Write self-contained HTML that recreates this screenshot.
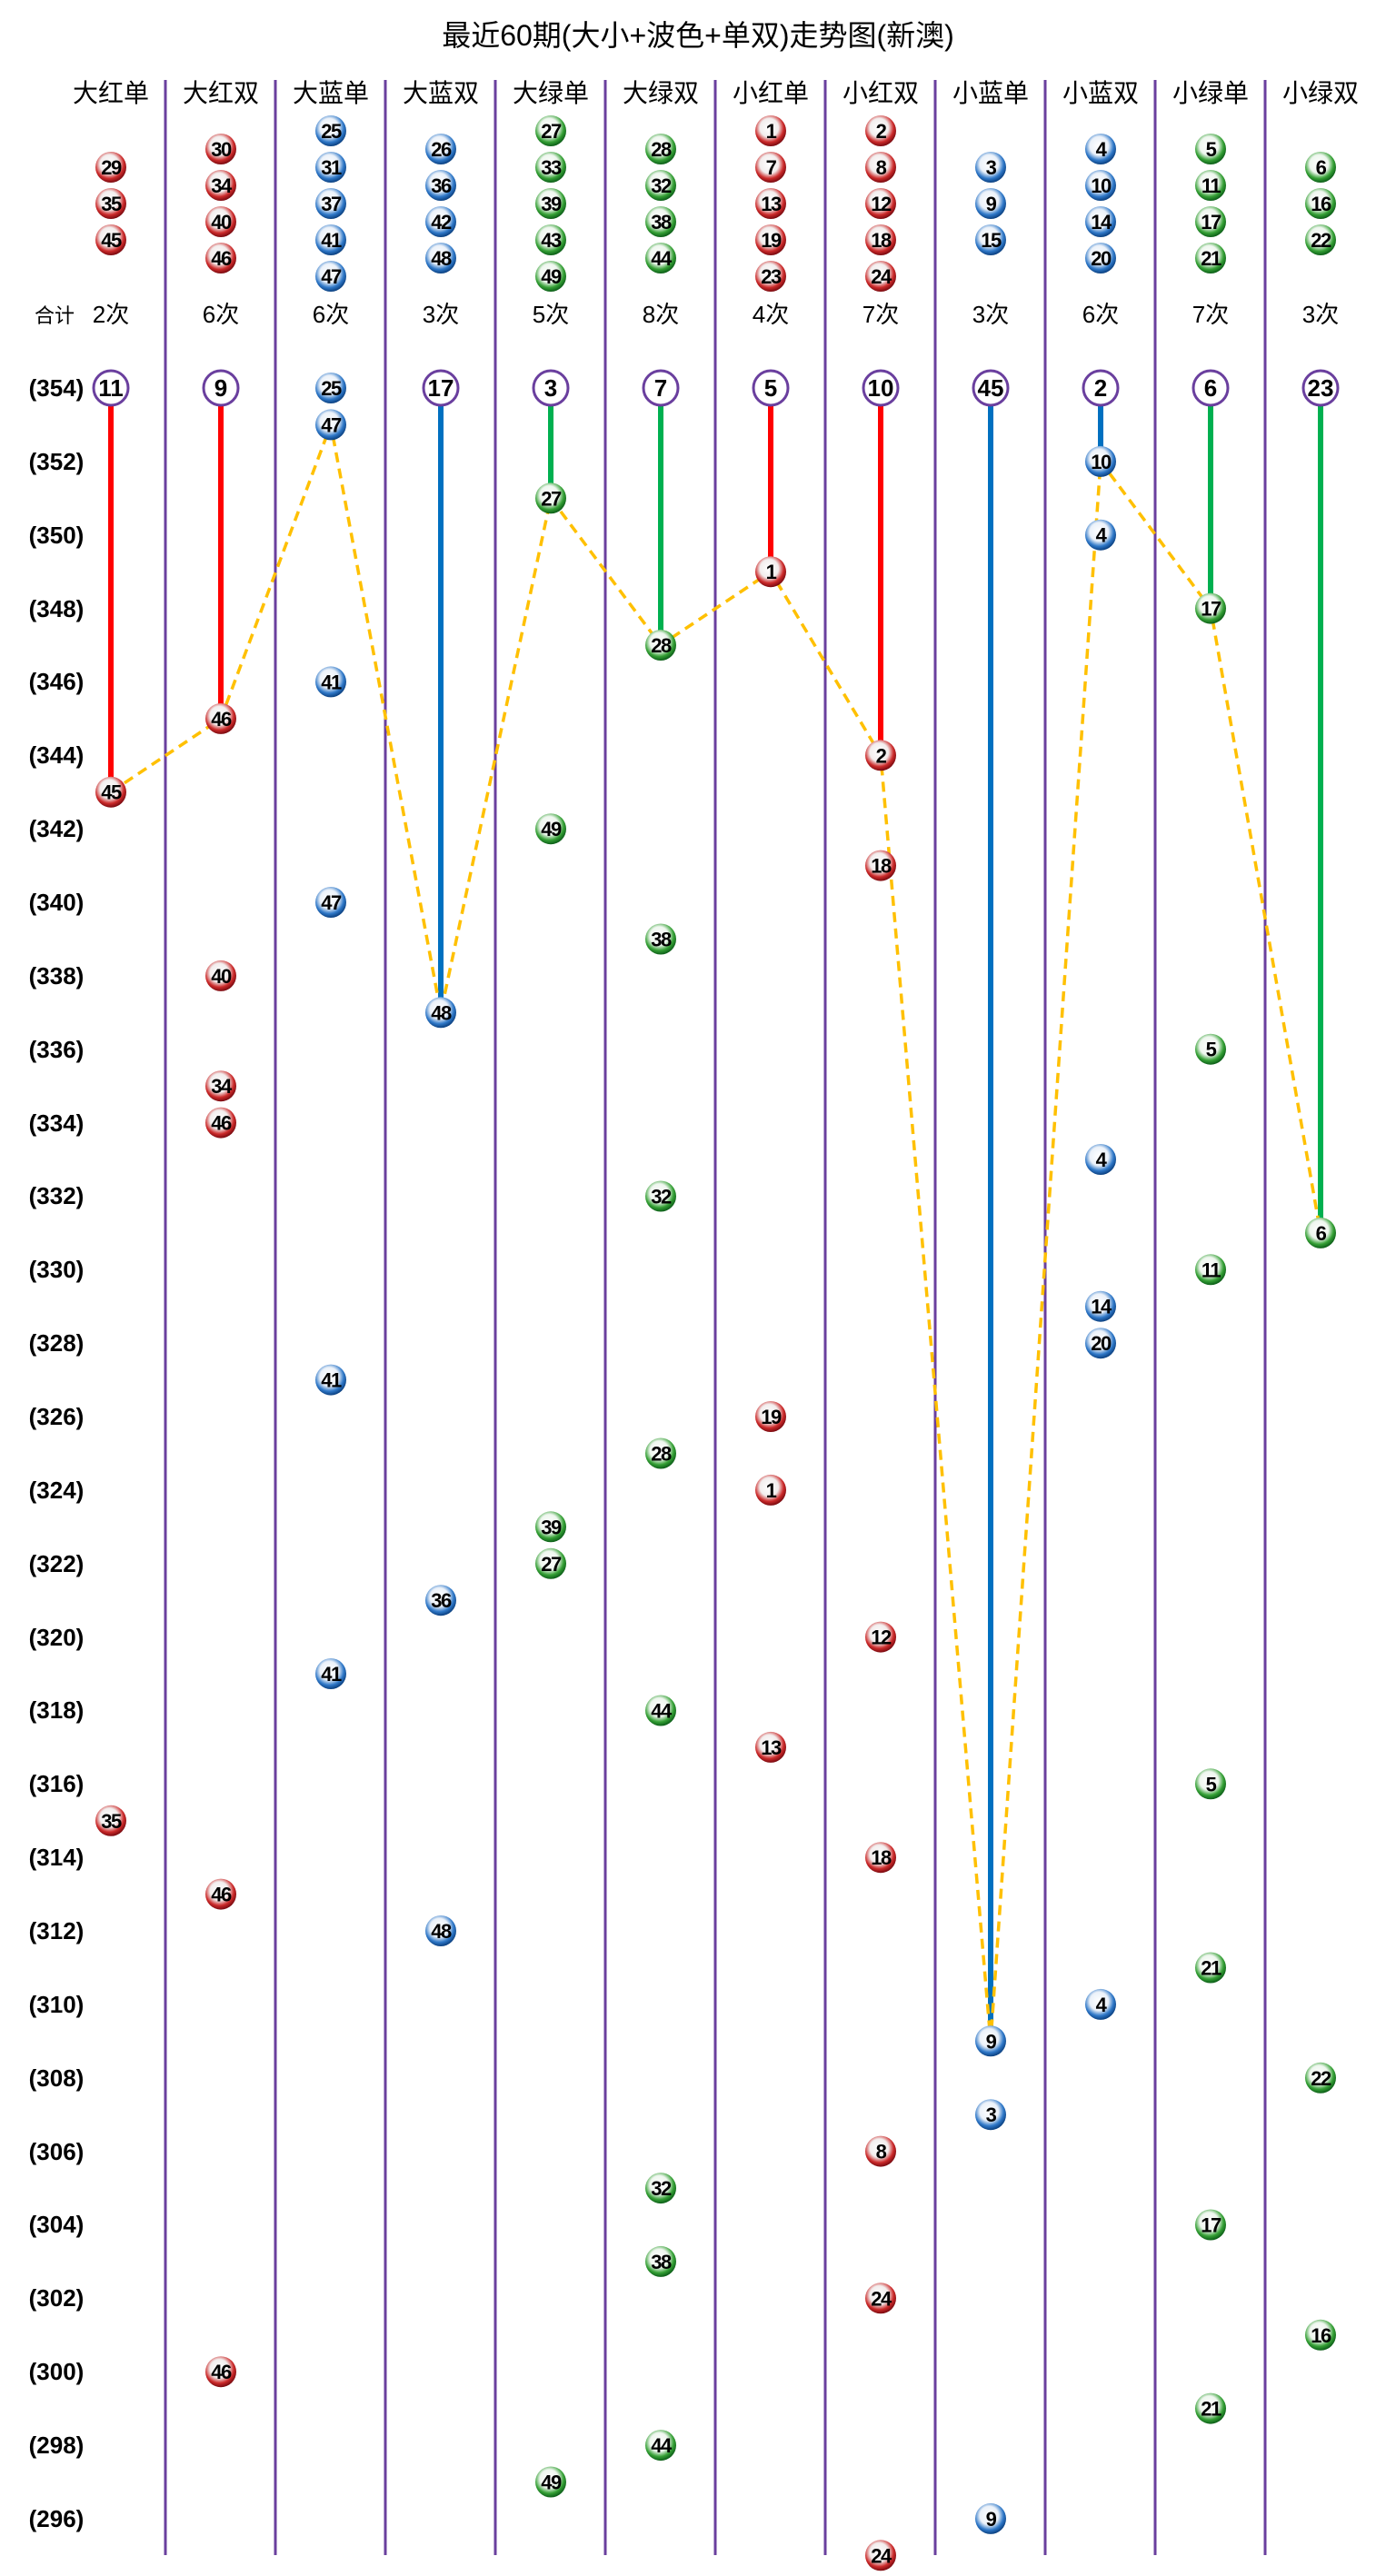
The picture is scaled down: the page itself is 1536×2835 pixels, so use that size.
<!DOCTYPE html>
<html><head><meta charset="utf-8">
<style>
html,body{margin:0;padding:0;background:#fff;}
svg{display:block;}
.t{font-family:"Liberation Sans","Noto Sans CJK SC",sans-serif;}
.h{font-family:"Liberation Sans","Noto Sans CJK SC",sans-serif;font-size:28px;text-anchor:middle;fill:#000;}
.c{font-family:"Liberation Sans","Noto Sans CJK SC",sans-serif;font-size:26px;text-anchor:middle;fill:#000;}
.l{font-family:"Liberation Sans",sans-serif;font-size:26px;font-weight:bold;text-anchor:middle;fill:#000;}
.b{font-family:"Liberation Sans",sans-serif;font-size:22px;font-weight:bold;text-anchor:middle;fill:#000;letter-spacing:-1.5px;}
.o{font-family:"Liberation Sans",sans-serif;font-size:26px;font-weight:bold;text-anchor:middle;fill:#000;}
</style></head><body>
<svg width="1536" height="2835" viewBox="0 0 1536 2835" xmlns="http://www.w3.org/2000/svg">
<defs>
<radialGradient id="R" cx="45%" cy="40%" r="60%"><stop offset="0" stop-color="#fff"/><stop offset="0.5" stop-color="#f2eded"/><stop offset="0.78" stop-color="#cc2a2a"/><stop offset="1" stop-color="#7a0a10"/></radialGradient>
<radialGradient id="B" cx="45%" cy="40%" r="60%"><stop offset="0" stop-color="#fff"/><stop offset="0.5" stop-color="#ebf1f9"/><stop offset="0.78" stop-color="#2f78c8"/><stop offset="1" stop-color="#0b4080"/></radialGradient>
<radialGradient id="G" cx="45%" cy="40%" r="60%"><stop offset="0" stop-color="#fff"/><stop offset="0.5" stop-color="#eef6ee"/><stop offset="0.78" stop-color="#35a035"/><stop offset="1" stop-color="#0c5e18"/></radialGradient>
</defs>
<text x="768" y="50" class="t" font-size="32" text-anchor="middle">最近60期(大小+波色+单双)走势图(新澳)</text>
<g stroke="#6a3f9e" stroke-width="3">
<line x1="182" y1="88" x2="182" y2="2812"/><line x1="303" y1="88" x2="303" y2="2812"/><line x1="424" y1="88" x2="424" y2="2812"/><line x1="545" y1="88" x2="545" y2="2812"/><line x1="666" y1="88" x2="666" y2="2812"/><line x1="787" y1="88" x2="787" y2="2812"/><line x1="908" y1="88" x2="908" y2="2812"/><line x1="1029" y1="88" x2="1029" y2="2812"/><line x1="1150" y1="88" x2="1150" y2="2812"/><line x1="1271" y1="88" x2="1271" y2="2812"/><line x1="1392" y1="88" x2="1392" y2="2812"/>
</g>
<text class="h" x="122" y="112">大红单</text><text class="h" x="243" y="112">大红双</text><text class="h" x="364" y="112">大蓝单</text><text class="h" x="485" y="112">大蓝双</text><text class="h" x="606" y="112">大绿单</text><text class="h" x="727" y="112">大绿双</text><text class="h" x="848" y="112">小红单</text><text class="h" x="969" y="112">小红双</text><text class="h" x="1090" y="112">小蓝单</text><text class="h" x="1211" y="112">小蓝双</text><text class="h" x="1332" y="112">小绿单</text><text class="h" x="1453" y="112">小绿双</text>
<text x="60" y="355" class="t" font-size="22" text-anchor="middle">合计</text>
<text class="c" x="122" y="355">2次</text><text class="c" x="243" y="355">6次</text><text class="c" x="364" y="355">6次</text><text class="c" x="485" y="355">3次</text><text class="c" x="606" y="355">5次</text><text class="c" x="727" y="355">8次</text><text class="c" x="848" y="355">4次</text><text class="c" x="969" y="355">7次</text><text class="c" x="1090" y="355">3次</text><text class="c" x="1211" y="355">6次</text><text class="c" x="1332" y="355">7次</text><text class="c" x="1453" y="355">3次</text>
<text class="l" x="62" y="436">(354)</text><text class="l" x="62" y="517">(352)</text><text class="l" x="62" y="598">(350)</text><text class="l" x="62" y="679">(348)</text><text class="l" x="62" y="759">(346)</text><text class="l" x="62" y="840">(344)</text><text class="l" x="62" y="921">(342)</text><text class="l" x="62" y="1002">(340)</text><text class="l" x="62" y="1083">(338)</text><text class="l" x="62" y="1164">(336)</text><text class="l" x="62" y="1245">(334)</text><text class="l" x="62" y="1325">(332)</text><text class="l" x="62" y="1406">(330)</text><text class="l" x="62" y="1487">(328)</text><text class="l" x="62" y="1568">(326)</text><text class="l" x="62" y="1649">(324)</text><text class="l" x="62" y="1730">(322)</text><text class="l" x="62" y="1811">(320)</text><text class="l" x="62" y="1891">(318)</text><text class="l" x="62" y="1972">(316)</text><text class="l" x="62" y="2053">(314)</text><text class="l" x="62" y="2134">(312)</text><text class="l" x="62" y="2215">(310)</text><text class="l" x="62" y="2296">(308)</text><text class="l" x="62" y="2377">(306)</text><text class="l" x="62" y="2457">(304)</text><text class="l" x="62" y="2538">(302)</text><text class="l" x="62" y="2619">(300)</text><text class="l" x="62" y="2700">(298)</text><text class="l" x="62" y="2781">(296)</text>
<g stroke-width="6">
<line x1="122" y1="427" x2="122" y2="871.7" stroke="#ff0000"/>
<line x1="243" y1="427" x2="243" y2="790.9" stroke="#ff0000"/>
<line x1="485" y1="427" x2="485" y2="1114.3" stroke="#0070c0"/>
<line x1="606" y1="427" x2="606" y2="548.3" stroke="#00b050"/>
<line x1="727" y1="427" x2="727" y2="710" stroke="#00b050"/>
<line x1="848" y1="427" x2="848" y2="629.2" stroke="#ff0000"/>
<line x1="969" y1="427" x2="969" y2="831.3" stroke="#ff0000"/>
<line x1="1090" y1="427" x2="1090" y2="2246.3" stroke="#0070c0"/>
<line x1="1211" y1="427" x2="1211" y2="507.9" stroke="#0070c0"/>
<line x1="1332" y1="427" x2="1332" y2="669.6" stroke="#00b050"/>
<line x1="1453" y1="427" x2="1453" y2="1356.9" stroke="#00b050"/>
</g>
<polyline fill="none" stroke="#ffc000" stroke-width="3.5" stroke-dasharray="11,7" points="122,871.7 243,790.9 364,467.4 485,1114.3 606,548.3 727,710 848,629.2 969,831.3 1090,2246.3 1211,507.9 1332,669.6 1453,1356.9"/>
<g fill="#fff" stroke="#6a3f9e" stroke-width="3">
<circle cx="122" cy="427" r="19"/><circle cx="243" cy="427" r="19"/><circle cx="485" cy="427" r="19"/><circle cx="606" cy="427" r="19"/><circle cx="727" cy="427" r="19"/><circle cx="848" cy="427" r="19"/><circle cx="969" cy="427" r="19"/><circle cx="1090" cy="427" r="19"/><circle cx="1211" cy="427" r="19"/><circle cx="1332" cy="427" r="19"/><circle cx="1453" cy="427" r="19"/>
</g>
<text class="o" x="122" y="436">11</text><text class="o" x="243" y="436">9</text><text class="o" x="485" y="436">17</text><text class="o" x="606" y="436">3</text><text class="o" x="727" y="436">7</text><text class="o" x="848" y="436">5</text><text class="o" x="969" y="436">10</text><text class="o" x="1090" y="436">45</text><text class="o" x="1211" y="436">2</text><text class="o" x="1332" y="436">6</text><text class="o" x="1453" y="436">23</text>
<g>
<circle cx="122" cy="184" r="17" fill="url(#R)"/><text class="b" x="122" y="192">29</text>
<circle cx="122" cy="224" r="17" fill="url(#R)"/><text class="b" x="122" y="232">35</text>
<circle cx="122" cy="264" r="17" fill="url(#R)"/><text class="b" x="122" y="272">45</text>
<circle cx="243" cy="164" r="17" fill="url(#R)"/><text class="b" x="243" y="172">30</text>
<circle cx="243" cy="204" r="17" fill="url(#R)"/><text class="b" x="243" y="212">34</text>
<circle cx="243" cy="244" r="17" fill="url(#R)"/><text class="b" x="243" y="252">40</text>
<circle cx="243" cy="284" r="17" fill="url(#R)"/><text class="b" x="243" y="292">46</text>
<circle cx="364" cy="144" r="17" fill="url(#B)"/><text class="b" x="364" y="152">25</text>
<circle cx="364" cy="184" r="17" fill="url(#B)"/><text class="b" x="364" y="192">31</text>
<circle cx="364" cy="224" r="17" fill="url(#B)"/><text class="b" x="364" y="232">37</text>
<circle cx="364" cy="264" r="17" fill="url(#B)"/><text class="b" x="364" y="272">41</text>
<circle cx="364" cy="304" r="17" fill="url(#B)"/><text class="b" x="364" y="312">47</text>
<circle cx="485" cy="164" r="17" fill="url(#B)"/><text class="b" x="485" y="172">26</text>
<circle cx="485" cy="204" r="17" fill="url(#B)"/><text class="b" x="485" y="212">36</text>
<circle cx="485" cy="244" r="17" fill="url(#B)"/><text class="b" x="485" y="252">42</text>
<circle cx="485" cy="284" r="17" fill="url(#B)"/><text class="b" x="485" y="292">48</text>
<circle cx="606" cy="144" r="17" fill="url(#G)"/><text class="b" x="606" y="152">27</text>
<circle cx="606" cy="184" r="17" fill="url(#G)"/><text class="b" x="606" y="192">33</text>
<circle cx="606" cy="224" r="17" fill="url(#G)"/><text class="b" x="606" y="232">39</text>
<circle cx="606" cy="264" r="17" fill="url(#G)"/><text class="b" x="606" y="272">43</text>
<circle cx="606" cy="304" r="17" fill="url(#G)"/><text class="b" x="606" y="312">49</text>
<circle cx="727" cy="164" r="17" fill="url(#G)"/><text class="b" x="727" y="172">28</text>
<circle cx="727" cy="204" r="17" fill="url(#G)"/><text class="b" x="727" y="212">32</text>
<circle cx="727" cy="244" r="17" fill="url(#G)"/><text class="b" x="727" y="252">38</text>
<circle cx="727" cy="284" r="17" fill="url(#G)"/><text class="b" x="727" y="292">44</text>
<circle cx="848" cy="144" r="17" fill="url(#R)"/><text class="b" x="848" y="152">1</text>
<circle cx="848" cy="184" r="17" fill="url(#R)"/><text class="b" x="848" y="192">7</text>
<circle cx="848" cy="224" r="17" fill="url(#R)"/><text class="b" x="848" y="232">13</text>
<circle cx="848" cy="264" r="17" fill="url(#R)"/><text class="b" x="848" y="272">19</text>
<circle cx="848" cy="304" r="17" fill="url(#R)"/><text class="b" x="848" y="312">23</text>
<circle cx="969" cy="144" r="17" fill="url(#R)"/><text class="b" x="969" y="152">2</text>
<circle cx="969" cy="184" r="17" fill="url(#R)"/><text class="b" x="969" y="192">8</text>
<circle cx="969" cy="224" r="17" fill="url(#R)"/><text class="b" x="969" y="232">12</text>
<circle cx="969" cy="264" r="17" fill="url(#R)"/><text class="b" x="969" y="272">18</text>
<circle cx="969" cy="304" r="17" fill="url(#R)"/><text class="b" x="969" y="312">24</text>
<circle cx="1090" cy="184" r="17" fill="url(#B)"/><text class="b" x="1090" y="192">3</text>
<circle cx="1090" cy="224" r="17" fill="url(#B)"/><text class="b" x="1090" y="232">9</text>
<circle cx="1090" cy="264" r="17" fill="url(#B)"/><text class="b" x="1090" y="272">15</text>
<circle cx="1211" cy="164" r="17" fill="url(#B)"/><text class="b" x="1211" y="172">4</text>
<circle cx="1211" cy="204" r="17" fill="url(#B)"/><text class="b" x="1211" y="212">10</text>
<circle cx="1211" cy="244" r="17" fill="url(#B)"/><text class="b" x="1211" y="252">14</text>
<circle cx="1211" cy="284" r="17" fill="url(#B)"/><text class="b" x="1211" y="292">20</text>
<circle cx="1332" cy="164" r="17" fill="url(#G)"/><text class="b" x="1332" y="172">5</text>
<circle cx="1332" cy="204" r="17" fill="url(#G)"/><text class="b" x="1332" y="212">11</text>
<circle cx="1332" cy="244" r="17" fill="url(#G)"/><text class="b" x="1332" y="252">17</text>
<circle cx="1332" cy="284" r="17" fill="url(#G)"/><text class="b" x="1332" y="292">21</text>
<circle cx="1453" cy="184" r="17" fill="url(#G)"/><text class="b" x="1453" y="192">6</text>
<circle cx="1453" cy="224" r="17" fill="url(#G)"/><text class="b" x="1453" y="232">16</text>
<circle cx="1453" cy="264" r="17" fill="url(#G)"/><text class="b" x="1453" y="272">22</text>
</g>
<g>
<circle cx="122" cy="871.7" r="17" fill="url(#R)"/><text class="b" x="122" y="879.7">45</text>
<circle cx="122" cy="2003.8" r="17" fill="url(#R)"/><text class="b" x="122" y="2011.8">35</text>
<circle cx="243" cy="790.9" r="17" fill="url(#R)"/><text class="b" x="243" y="798.9">46</text>
<circle cx="243" cy="1073.9" r="17" fill="url(#R)"/><text class="b" x="243" y="1081.9">40</text>
<circle cx="243" cy="1195.2" r="17" fill="url(#R)"/><text class="b" x="243" y="1203.2">34</text>
<circle cx="243" cy="1235.6" r="17" fill="url(#R)"/><text class="b" x="243" y="1243.6">46</text>
<circle cx="243" cy="2084.6" r="17" fill="url(#R)"/><text class="b" x="243" y="2092.6">46</text>
<circle cx="243" cy="2610.2" r="17" fill="url(#R)"/><text class="b" x="243" y="2618.2">46</text>
<circle cx="364" cy="427" r="17" fill="url(#B)"/><text class="b" x="364" y="435">25</text>
<circle cx="364" cy="467.4" r="17" fill="url(#B)"/><text class="b" x="364" y="475.4">47</text>
<circle cx="364" cy="750.4" r="17" fill="url(#B)"/><text class="b" x="364" y="758.4">41</text>
<circle cx="364" cy="993" r="17" fill="url(#B)"/><text class="b" x="364" y="1001">47</text>
<circle cx="364" cy="1518.6" r="17" fill="url(#B)"/><text class="b" x="364" y="1526.6">41</text>
<circle cx="364" cy="1842" r="17" fill="url(#B)"/><text class="b" x="364" y="1850">41</text>
<circle cx="485" cy="1114.3" r="17" fill="url(#B)"/><text class="b" x="485" y="1122.3">48</text>
<circle cx="485" cy="1761.2" r="17" fill="url(#B)"/><text class="b" x="485" y="1769.2">36</text>
<circle cx="485" cy="2125" r="17" fill="url(#B)"/><text class="b" x="485" y="2133">48</text>
<circle cx="606" cy="548.3" r="17" fill="url(#G)"/><text class="b" x="606" y="556.3">27</text>
<circle cx="606" cy="912.2" r="17" fill="url(#G)"/><text class="b" x="606" y="920.2">49</text>
<circle cx="606" cy="1680.3" r="17" fill="url(#G)"/><text class="b" x="606" y="1688.3">39</text>
<circle cx="606" cy="1720.8" r="17" fill="url(#G)"/><text class="b" x="606" y="1728.8">27</text>
<circle cx="606" cy="2731.5" r="17" fill="url(#G)"/><text class="b" x="606" y="2739.5">49</text>
<circle cx="727" cy="710" r="17" fill="url(#G)"/><text class="b" x="727" y="718">28</text>
<circle cx="727" cy="1033.5" r="17" fill="url(#G)"/><text class="b" x="727" y="1041.5">38</text>
<circle cx="727" cy="1316.5" r="17" fill="url(#G)"/><text class="b" x="727" y="1324.5">32</text>
<circle cx="727" cy="1599.5" r="17" fill="url(#G)"/><text class="b" x="727" y="1607.5">28</text>
<circle cx="727" cy="1882.5" r="17" fill="url(#G)"/><text class="b" x="727" y="1890.5">44</text>
<circle cx="727" cy="2408.1" r="17" fill="url(#G)"/><text class="b" x="727" y="2416.1">32</text>
<circle cx="727" cy="2488.9" r="17" fill="url(#G)"/><text class="b" x="727" y="2496.9">38</text>
<circle cx="727" cy="2691.1" r="17" fill="url(#G)"/><text class="b" x="727" y="2699.1">44</text>
<circle cx="848" cy="629.2" r="17" fill="url(#R)"/><text class="b" x="848" y="637.2">1</text>
<circle cx="848" cy="1559" r="17" fill="url(#R)"/><text class="b" x="848" y="1567">19</text>
<circle cx="848" cy="1639.9" r="17" fill="url(#R)"/><text class="b" x="848" y="1647.9">1</text>
<circle cx="848" cy="1922.9" r="17" fill="url(#R)"/><text class="b" x="848" y="1930.9">13</text>
<circle cx="969" cy="831.3" r="17" fill="url(#R)"/><text class="b" x="969" y="839.3">2</text>
<circle cx="969" cy="952.6" r="17" fill="url(#R)"/><text class="b" x="969" y="960.6">18</text>
<circle cx="969" cy="1801.6" r="17" fill="url(#R)"/><text class="b" x="969" y="1809.6">12</text>
<circle cx="969" cy="2044.2" r="17" fill="url(#R)"/><text class="b" x="969" y="2052.2">18</text>
<circle cx="969" cy="2367.6" r="17" fill="url(#R)"/><text class="b" x="969" y="2375.6">8</text>
<circle cx="969" cy="2529.3" r="17" fill="url(#R)"/><text class="b" x="969" y="2537.3">24</text>
<circle cx="969" cy="2812.3" r="17" fill="url(#R)"/><text class="b" x="969" y="2820.3">24</text>
<circle cx="1090" cy="2246.3" r="17" fill="url(#B)"/><text class="b" x="1090" y="2254.3">9</text>
<circle cx="1090" cy="2327.2" r="17" fill="url(#B)"/><text class="b" x="1090" y="2335.2">3</text>
<circle cx="1090" cy="2771.9" r="17" fill="url(#B)"/><text class="b" x="1090" y="2779.9">9</text>
<circle cx="1211" cy="507.9" r="17" fill="url(#B)"/><text class="b" x="1211" y="515.9">10</text>
<circle cx="1211" cy="588.7" r="17" fill="url(#B)"/><text class="b" x="1211" y="596.7">4</text>
<circle cx="1211" cy="1276" r="17" fill="url(#B)"/><text class="b" x="1211" y="1284">4</text>
<circle cx="1211" cy="1437.7" r="17" fill="url(#B)"/><text class="b" x="1211" y="1445.7">14</text>
<circle cx="1211" cy="1478.2" r="17" fill="url(#B)"/><text class="b" x="1211" y="1486.2">20</text>
<circle cx="1211" cy="2205.9" r="17" fill="url(#B)"/><text class="b" x="1211" y="2213.9">4</text>
<circle cx="1332" cy="669.6" r="17" fill="url(#G)"/><text class="b" x="1332" y="677.6">17</text>
<circle cx="1332" cy="1154.7" r="17" fill="url(#G)"/><text class="b" x="1332" y="1162.7">5</text>
<circle cx="1332" cy="1397.3" r="17" fill="url(#G)"/><text class="b" x="1332" y="1405.3">11</text>
<circle cx="1332" cy="1963.3" r="17" fill="url(#G)"/><text class="b" x="1332" y="1971.3">5</text>
<circle cx="1332" cy="2165.5" r="17" fill="url(#G)"/><text class="b" x="1332" y="2173.5">21</text>
<circle cx="1332" cy="2448.5" r="17" fill="url(#G)"/><text class="b" x="1332" y="2456.5">17</text>
<circle cx="1332" cy="2650.6" r="17" fill="url(#G)"/><text class="b" x="1332" y="2658.6">21</text>
<circle cx="1453" cy="1356.9" r="17" fill="url(#G)"/><text class="b" x="1453" y="1364.9">6</text>
<circle cx="1453" cy="2286.8" r="17" fill="url(#G)"/><text class="b" x="1453" y="2294.8">22</text>
<circle cx="1453" cy="2569.8" r="17" fill="url(#G)"/><text class="b" x="1453" y="2577.8">16</text>
</g>
</svg>
</body></html>
